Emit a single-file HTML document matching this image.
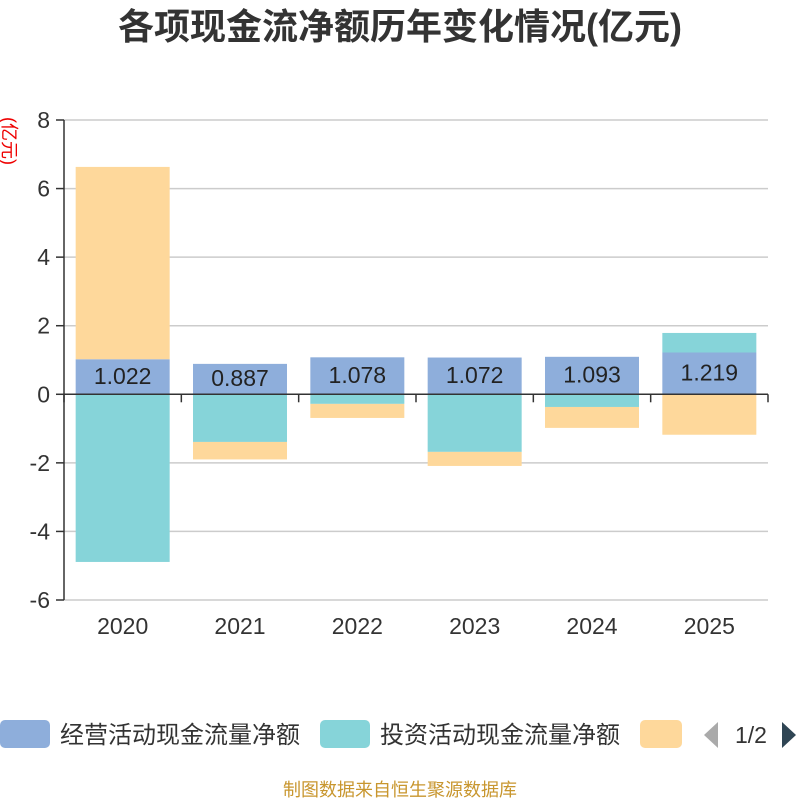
<!DOCTYPE html>
<html><head><meta charset="utf-8"><style>
body{margin:0;background:#fff;}
svg{display:block;font-family:"Liberation Sans","Noto Sans CJK SC",sans-serif;}
</style></head><body>
<svg id="chart" width="800" height="800">
<text x="400" y="39" text-anchor="middle" font-size="36" font-weight="bold" fill="#333">各项现金流净额历年变化情况(亿元)</text>
<text transform="translate(3,141) rotate(90)" text-anchor="middle" font-size="18" fill="#e00">(亿元)</text>
<g id="grid"></g><g id="bars"></g><g id="axes"></g>
<g>
<rect x="0" y="720" width="50" height="28" rx="5" fill="#8eaedb"/>
<text x="60" y="743" font-size="24" fill="#333">经营活动现金流量净额</text>
<rect x="320" y="720" width="50" height="28" rx="5" fill="#86d4d9"/>
<text x="380" y="743" font-size="24" fill="#333">投资活动现金流量净额</text>
<rect x="640" y="720" width="42" height="28" rx="5" fill="#fed89b"/>
<polygon points="718,722 718,748 704,735" fill="#aaa"/>
<text x="751" y="743" font-size="23" fill="#333" text-anchor="middle">1/2</text>
<polygon points="782,722 782,748 796,735" fill="#2f4554"/>
</g>
<text x="400" y="796" text-anchor="middle" font-size="18" fill="#c8962e">制图数据来自恒生聚源数据库</text>
</svg>
<script>
const categories=["2020","2021","2022","2023","2024","2025"];
const operating=[1.022,0.887,1.078,1.072,1.093,1.219];
const investing=[-4.89,-1.39,-0.28,-1.68,-0.37,0.57];
const financing=[5.61,-0.51,-0.41,-0.41,-0.61,-1.18];
const yTicks=[-6,-4,-2,0,2,4,6,8];
const NS="http://www.w3.org/2000/svg";
const x0=64,x1=768,yTop=120,yBot=600,yMin=-6,yMax=8;
const y=v=>yTop+(yMax-v)/(yMax-yMin)*(yBot-yTop);
const band=(x1-x0)/categories.length;
const xc=i=>x0+band*(i+0.5);
function mk(tag,attrs,parent){const e=document.createElementNS(NS,tag);for(const k in attrs)e.setAttribute(k,attrs[k]);document.getElementById(parent).appendChild(e);return e;}
yTicks.forEach(t=>{
 const l=mk('line',{x1:x0,x2:x1,y1:y(t),y2:y(t),stroke:'#ccc','stroke-width':1.5},'grid');
 
 
 const tk=mk('line',{x1:x0-8,x2:x0,y1:y(t),y2:y(t),stroke:'#333','stroke-width':1.5},'axes');
 
 
 const tx=mk('text',{x:x0-14,y:y(t)+8,'text-anchor':'end','font-size':23,fill:'#333'},'axes');
 tx.textContent=t;
 
 
});
const ya=mk('line',{x1:x0,x2:x0,y1:yTop,y2:yBot,stroke:'#333','stroke-width':1.5},'axes');


const xa=mk('line',{x1:x0,x2:x1,y1:y(0),y2:y(0),stroke:'#333','stroke-width':1.5},'axes');


for(let i=0;i<=categories.length;i++){
 const t=mk('line',{x1:x0+band*i,x2:x0+band*i,y1:y(0),y2:y(0)+8,stroke:'#333','stroke-width':1.5},'axes');
 
 
}
const bw=94;
const series=[[operating,'#8eaedb','operating'],[investing,'#86d4d9','investing'],[financing,'#fed89b','financing']];
categories.forEach((c,i)=>{
 let pos=0,neg=0;
 series.forEach(([arr,col,nm])=>{
  const v=arr[i];let a,b;
  if(v>=0){a=pos;b=pos+v;pos=b;}else{a=neg;b=neg+v;neg=b;}
  const r=mk('rect',{x:xc(i)-bw/2,y:Math.min(y(a),y(b)),width:bw,height:Math.abs(y(a)-y(b)),fill:col},'bars');
  
  
 });
 const lb=mk('text',{x:xc(i),y:y(operating[i]/2)+7,'text-anchor':'middle','font-size':23,fill:'#222'},'bars');
 lb.textContent=operating[i].toFixed(3);
 
 
 const xl=mk('text',{x:xc(i),y:634,'text-anchor':'middle','font-size':23,fill:'#333'},'axes');
 xl.textContent=c;
 
 
});
</script>
</body></html>
